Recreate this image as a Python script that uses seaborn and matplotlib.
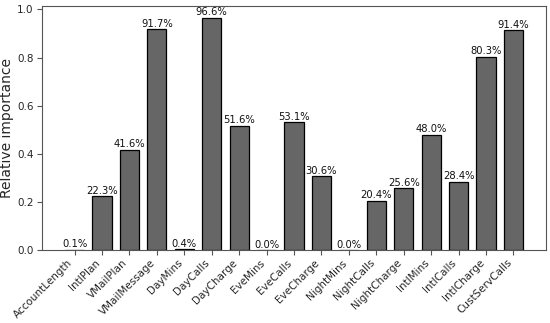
import matplotlib
matplotlib.use("Agg")
import matplotlib.pyplot as plt
import seaborn as sns
import pandas as pd

features = ["AccountLength", "IntlPlan", "VMailPlan", "VMailMessage", "DayMins",
            "DayCalls", "DayCharge", "EveMins", "EveCalls", "EveCharge",
            "NightMins", "NightCalls", "NightCharge", "IntlMins", "IntlCalls",
            "IntlCharge", "CustServCalls"]
importance = [0.001, 0.223, 0.416, 0.917, 0.004, 0.966, 0.516, 0.000, 0.531,
              0.306, 0.000, 0.204, 0.256, 0.480, 0.284, 0.803, 0.914]

sns.set_style("white")
plt.rcParams["font.family"] = ["DejaVu Sans"]

df = pd.DataFrame({"feature": features, "importance": importance})

fig, ax = plt.subplots(figsize=(5.5, 3.23), dpi=100)
sns.barplot(data=df, x="feature", y="importance", color="#666666",
            saturation=1, width=0.7, edgecolor="black", linewidth=0.9, ax=ax)

# percent labels on top of each bar
for p, v in zip(ax.patches, importance):
    ax.text(p.get_x() + p.get_width() / 2, v + 0.002, f"{v * 100:.1f}%",
            ha="center", va="bottom", fontsize=7.2, color="#111111")

n = len(features)
pad = 0.05 * (n - 1 + 0.7)
ax.set_xlim(-0.35 - pad, n - 1 + 0.35 + pad)
ax.set_ylim(0, max(importance) * 1.05)
ax.set_xlabel("")
ax.set_ylabel("Relative importance", fontsize=10)
ax.yaxis.set_label_coords(-0.056, 0.5)
ax.tick_params(axis="both", labelsize=7.5, length=3.5, width=0.8, pad=2.5,
               direction="out", bottom=True, left=True, color="#555555")
ax.tick_params(axis="x", labelsize=7.5, pad=2)
plt.setp(ax.get_xticklabels(), rotation=45, ha="right")
for s in ax.spines.values():
    s.set_color("#555555")

plt.subplots_adjust(left=0.0764, right=0.9927, top=0.9814, bottom=0.226)
plt.savefig("out.png", dpi=100)
